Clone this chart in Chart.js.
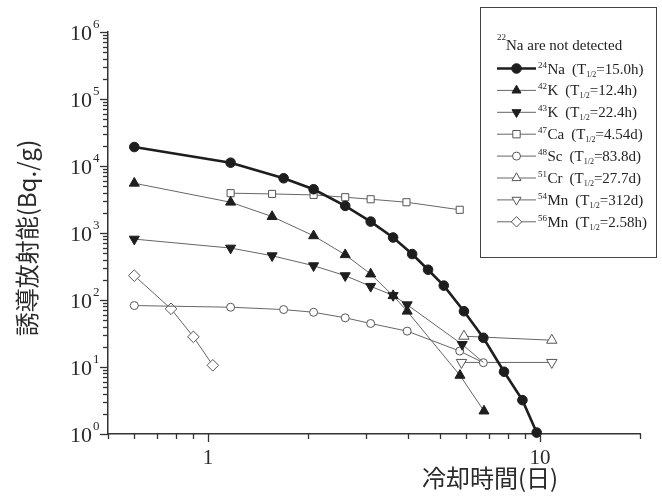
<!DOCTYPE html>
<html>
<head>
<meta charset="utf-8">
<script src="https://cdn.jsdelivr.net/npm/chart.js@4.4.1/dist/chart.umd.min.js"></script>
<style>
html,body{margin:0;padding:0;background:#fff}
</style>
</head>
<body>
<canvas id="myChart" width="662" height="498"></canvas>
<script>
// 冷却時間(日) vs 誘導放射能(Bq./g)
const naX=[0.6,1.17,1.69,2.08,2.59,3.09,3.61,4.12,4.6,5.13,5.9,6.75,7.79,8.85,9.77]
const naY=[19200,11200,6560,4500,2540,1480,857,485,283,164,68,27.3,8.5,3.2,1.05]
const k42X=[0.6,1.17,1.56,2.08,2.59,3.09,3.61,3.98,5.74,6.78]
const k42Y=[5530,2880,1760,908,474,244,116,68,7.5,2.2]
const k43X=[0.6,1.17,1.56,2.08,2.59,3.09,3.61,3.98,5.83,6.75]
const k43Y=[811,596,458,325,231,160,117,85,21.7,11.7]
const caX=[1.17,1.56,2.08,2.59,3.09,3.96,5.73]
const caY=[3930,3830,3700,3420,3190,2880,2220]
const scX=[0.6,1.17,1.69,2.08,2.59,3.09,3.98,5.73,6.75]
const scY=[82.6,78,72,65.6,54.2,44.6,34.3,17.3,11.6]
const crX=[5.9,10.85]
const crY=[28.8,25.1]
const mn54X=[5.8,10.85]
const mn54Y=[11.7,11.7]
const mn56X=[0.6,0.774,0.904,1.034]
const mn56Y=[231,73.8,28.2,10.6]

// legend texts
const massNo=['24','42','43','47','48','51','54','56']
const symbols=['Na','K','K','Ca','Sc','Cr','Mn','Mn']
const halfLives=['15.0h','12.4h','22.4h','4.54d','83.8d','27.7d','312d','2.58h']

// axis labels
const xTickVals=[1,10]
const xTickLabels=['1','10']
const yTickExp=['0','1','2','3','4','5','6']

const dark='#1e1e1e'
const grey='#666'

function pts(xs,ys){
  return xs.map((x,i)=>({x:x,y:ys[i]}))
}

function ds(xs,ys,o){
  return Object.assign({
    data:pts(xs,ys),
    showLine:true,
    borderColor:grey,
    borderWidth:1,
    pointBorderColor:'#555',
    pointBackgroundColor:'#fff',
    pointBorderWidth:1,
    pointRadius:5,
    tension:0,
    clip:false
  },o)
}

const datasets=[
  ds(naX,naY,{borderColor:dark,borderWidth:2.6,pointStyle:'circle',pointRadius:4.8,pointBackgroundColor:dark,pointBorderColor:dark}),
  ds(k42X,k42Y,{pointStyle:'triangle',pointRadius:5.8,pointBackgroundColor:dark,pointBorderColor:dark}),
  ds(k43X,k43Y,{pointStyle:'triangle',pointRotation:180,pointRadius:c=>c.dataIndex===k43X.length-1?0:5.8,pointBackgroundColor:dark,pointBorderColor:dark}),
  ds(caX,caY,{pointStyle:'rect',pointRadius:5}),
  ds(scX,scY,{pointStyle:'circle',pointRadius:4}),
  ds(crX,crY,{pointStyle:'triangle',pointRadius:6}),
  ds(mn54X,mn54Y,{pointStyle:'triangle',pointRotation:180,pointRadius:6}),
  ds(mn56X,mn56Y,{pointStyle:'rectRot',pointRadius:5.8})
]

const deco={
  id:'deco',
  afterDraw(chart){
    const ctx=chart.ctx
    const xs=chart.scales.x, ys=chart.scales.y
    const ca=chart.chartArea
    ctx.save()
    ctx.strokeStyle='#333'
    ctx.lineWidth=1.3
    // x ticks
    for(let e=-1;e<=1;e++){
      for(let m=1;m<=9;m++){
        const v=m*Math.pow(10,e)
        if(v<0.5-1e-9||v>20+1e-9) continue
        const px=Math.round(xs.getPixelForValue(v))+0.5
        ctx.beginPath()
        ctx.moveTo(px,ca.bottom)
        ctx.lineTo(px,ca.bottom+(m===1?8:5))
        ctx.stroke()
      }
    }
    // y ticks
    for(let e=0;e<=6;e++){
      for(let m=1;m<=9;m++){
        const v=m*Math.pow(10,e)
        if(v>1e6) continue
        const py=Math.round(ys.getPixelForValue(v))+0.5
        ctx.beginPath()
        ctx.moveTo(ca.left,py)
        ctx.lineTo(ca.left-(m===1?8:5),py)
        ctx.stroke()
      }
    }
    ctx.fillStyle='#2a2a2a'
    // x tick labels
    ctx.font='21px "Liberation Serif"'
    ctx.textAlign='center'
    ctx.textBaseline='middle'
    xTickVals.forEach((v,i)=>{
      ctx.fillText(xTickLabels[i],xs.getPixelForValue(v),458)
    })
    // y tick labels
    yTickExp.forEach(ex=>{
      const py=ys.getPixelForValue(Math.pow(10,+ex))
      ctx.font='22px "Liberation Serif"'
      ctx.textAlign='right'
      ctx.textBaseline='middle'
      ctx.fillText('10',ca.left-16,py+2)
      ctx.font='13px "Liberation Serif"'
      ctx.textAlign='left'
      ctx.textBaseline='alphabetic'
      ctx.fillText(ex,ca.left-15,py-4)
    })
    // axis titles
    ctx.font='24px "Noto Sans CJK JP"'
    ctx.textAlign='center'
    ctx.textBaseline='middle'
    ctx.fillText('冷却時間(日)',490,478)
    ctx.save()
    ctx.translate(27,238)
    ctx.rotate(-Math.PI/2)
    ctx.fillText('誘導放射能(Bq./g)',0,0)
    ctx.restore()

    // legend box
    ctx.fillStyle='#fff'
    ctx.fillRect(480,7,177,250)
    ctx.strokeStyle='#444'
    ctx.lineWidth=1
    ctx.strokeRect(480.5,7.5,176,250)
    ctx.fillStyle='#222'
    ctx.textAlign='left'
    ctx.textBaseline='alphabetic'
    ctx.font='9px "Liberation Serif"'
    ctx.fillText('22',497,40)
    ctx.font='15px "Liberation Serif"'
    ctx.fillText('Na are not detected',506,50)
    chart.data.datasets.forEach((d,i)=>{
      const y=68.5+21.9*i
      ctx.strokeStyle=d.borderColor
      ctx.lineWidth=d.borderWidth
      ctx.beginPath()
      ctx.moveTo(497,y)
      ctx.lineTo(536,y)
      ctx.stroke()
      ctx.fillStyle=d.pointBackgroundColor
      ctx.strokeStyle=d.pointBorderColor
      ctx.lineWidth=d.pointBorderWidth
      Chart.helpers.drawPoint(ctx,{pointStyle:d.pointStyle,radius:i===0?4.8:(d.pointStyle==='circle'?4:5.2),rotation:d.pointRotation||0,borderWidth:1},516.5,y)
      ctx.fillStyle='#222'
      let x=538
      ctx.font='9px "Liberation Serif"'
      ctx.fillText(massNo[i],x,y-1)
      x+=ctx.measureText(massNo[i]).width+0.5
      ctx.font='15px "Liberation Serif"'
      ctx.fillText(symbols[i],x,y+5)
      x+=ctx.measureText(symbols[i]).width+7
      ctx.fillText('(T',x,y+5)
      x+=ctx.measureText('(T').width
      ctx.font='8px "Liberation Serif"'
      ctx.fillText('1/2',x,y+8)
      x+=ctx.measureText('1/2').width
      ctx.font='15px "Liberation Serif"'
      ctx.fillText('='+halfLives[i]+')',x,y+5)
    })
    ctx.restore()
  }
}

const myChart=new Chart(document.getElementById('myChart'),{
  type:'scatter',
  data:{datasets:datasets},
  options:{
    responsive:false,
    animation:false,
    layout:{padding:{left:0,top:32,right:22,bottom:0},autoPadding:false},
    plugins:{legend:{display:false},tooltip:{enabled:false}},
    scales:{
      x:{
        type:'logarithmic',min:0.5,max:20,
        grid:{display:false,drawTicks:false},
        ticks:{display:false},
        border:{display:true,color:'#333',width:1.5},
        afterFit:s=>{s.height=64}
      },
      y:{
        type:'logarithmic',min:1,max:1e6,
        grid:{display:false,drawTicks:false},
        ticks:{display:false},
        border:{display:true,color:'#333',width:1.5},
        afterFit:s=>{s.width=108}
      }
    }
  },
  plugins:[deco]
})
</script>
</body>
</html>
